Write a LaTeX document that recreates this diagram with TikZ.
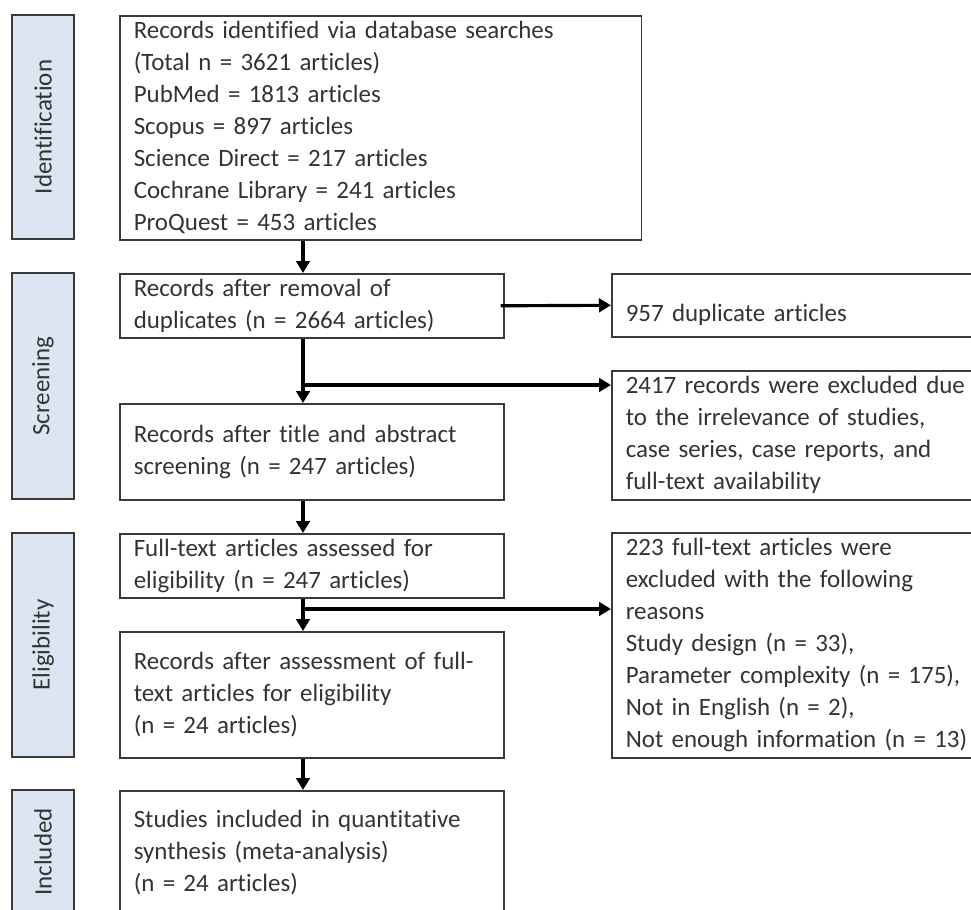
\documentclass[tikz,border=0pt]{standalone}
\usepackage{fontspec}
\setmainfont{Carlito}[Ligatures=NoCommon]
\usetikzlibrary{arrows.meta}

\definecolor{barblue}{HTML}{DCE6F2}
\definecolor{edge}{HTML}{3A3A3A}
\definecolor{ink}{HTML}{333333}

\tikzset{
    box/.style={draw=edge, line width=0.9pt, anchor=north west, align=left,
        inner xsep=0.28cm, inner ysep=0pt, text=ink,
        font=\fontsize{14.2}{18.2}\selectfont},
    phase/.style={draw=edge, fill=barblue, line width=1pt, rotate=90,
        minimum height=1.24cm, inner sep=0pt, text=ink,
        font=\fontsize{14.2}{16}\selectfont},
    arr/.style={line width=1.8pt, -{Triangle[length=0.24cm,width=0.27cm]}},
}

\begin{document}
\begin{tikzpicture}[x=0.02cm, y=-0.02cm]
    \useasboundingbox (0,0) rectangle (971,910);
    \clip (0,0) rectangle (971,910);

    % phase bars
    \node[phase, minimum width=4.48cm] (barId) at (43,127) {Identification};
    \node[phase, minimum width=4.52cm] (barScr) at (43,386) {Screening};
    \node[phase, minimum width=4.48cm] (barElig) at (43,645) {Eligibility};
    \node[phase, minimum width=2.48cm] (barInc) at (43,852) {Included};

    % main column
    \node[box, text width=9.88cm, minimum height=4.48cm] (srch) at (119,15)
        {Records identified via database searches\\
         (Total n = 3621 articles)\\
         PubMed = 1813 articles\\
         Scopus = 897 articles\\
         Science Direct = 217 articles\\
         Cochrane Library = 241 articles\\
         ProQuest = 453 articles};
    \node[box, text width=7.12cm, minimum height=1.28cm] (dedup) at (119,273)
        {Records after removal of\\
         duplicates (n = 2664 articles)};
    \node[box, text width=7.12cm, minimum height=1.92cm] (screened) at (119,403)
        {Records after title and abstract\\
         screening (n = 247 articles)};
    \node[box, text width=7.12cm, minimum height=1.28cm] (assessed) at (119,533)
        {Full-text articles assessed for\\
         eligibility (n = 247 articles)};
    \node[box, text width=7.12cm, minimum height=2.52cm] (eligible) at (119,631)
        {Records after assessment of full-\\
         text articles for eligibility\\
         (n = 24 articles)};
    \node[box, text width=7.12cm, minimum height=2.48cm] (included) at (119,790)
        {Studies included in quantitative\\
         synthesis (meta-analysis)\\
         (n = 24 articles)};

    % exclusions
    \node[box, text width=7.02cm, minimum height=1.26cm,
          text height=0.75cm, text depth=0.1cm] (dupl) at (611,273)
        {957 duplicate articles};
    \node[box, text width=7.02cm, minimum height=2.58cm] (excl1) at (611,370)
        {2417 records were excluded due\\
         to the irrelevance of studies,\\
         case series, case reports, and\\
         full-text availability};
    \node[box, text width=7.02cm, minimum height=4.5cm] (excl2) at (611,532)
        {223 full-text articles were\\
         excluded with the following\\
         reasons\\
         Study design (n = 33),\\
         Parameter complexity (n = 175),\\
         Not in English (n = 2),\\
         Not enough information (n = 13)};

    % arrows
    \coordinate (spine) at (303,0);
    \coordinate (fork1) at (303,385);
    \coordinate (fork2) at (303,609);

    \draw[arr] (spine |- srch.south) -- (spine |- dedup.north);
    \draw[arr] ([xshift=-0.08cm]dedup.east) -- (dupl.west);
    \draw[arr] (spine |- dedup.south) -- (spine |- screened.north);
    \draw[arr] (fork1) -- (fork1 -| excl1.west);
    \draw[arr] (spine |- screened.south) -- (spine |- assessed.north);
    \draw[arr] (spine |- assessed.south) -- (spine |- eligible.north);
    \draw[arr] (fork2) -- (fork2 -| excl2.west);
    \draw[arr] (spine |- eligible.south) -- (spine |- included.north);
\end{tikzpicture}
\end{document}
